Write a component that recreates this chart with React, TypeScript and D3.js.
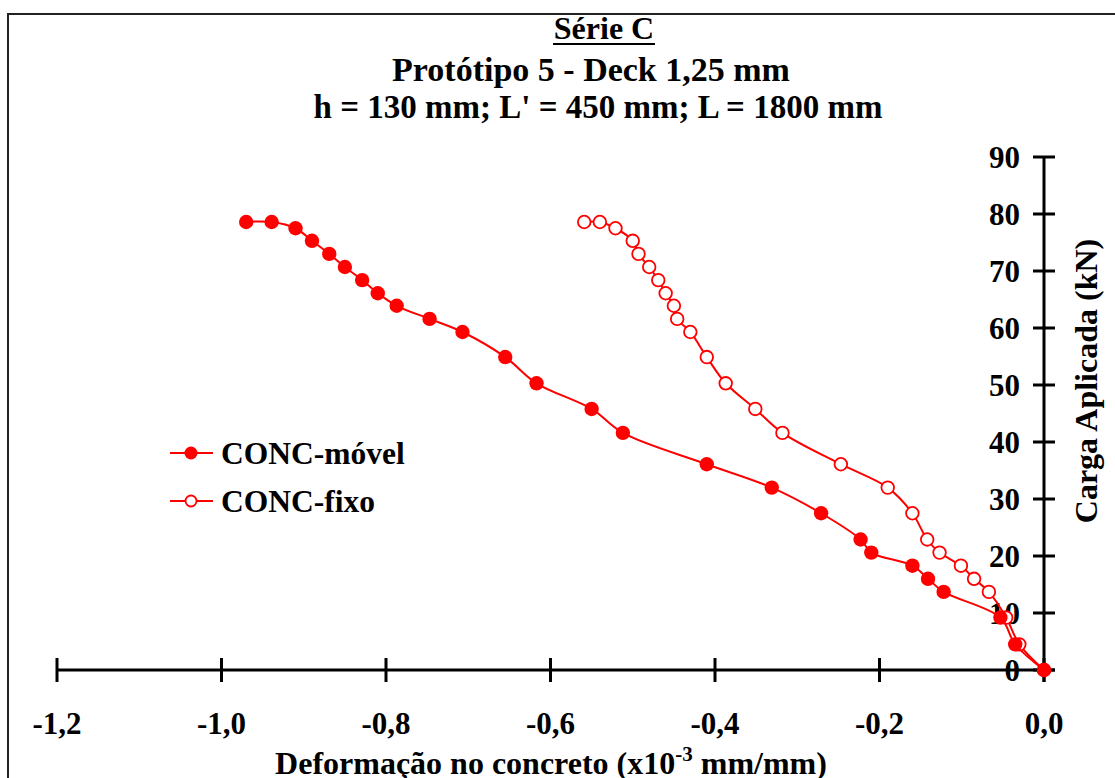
import React from "react";
import * as d3 from "d3";

// cargas (kN) comuns às duas séries
const loads = [
  78.6, 78.6, 77.5, 75.3, 73.0, 70.7, 68.4, 66.1, 63.9, 61.6, 59.3, 54.9, 50.3,
  45.8, 41.6, 36.1, 32.0, 27.5, 22.9, 20.6, 18.3, 16.0, 13.7, 9.2, 4.5, 0,
];

// deformações (x10^-3 mm/mm)
const concMovel = [
  -0.970, -0.939, -0.910, -0.890, -0.869, -0.850, -0.829, -0.810, -0.787,
  -0.747, -0.707, -0.655, -0.617, -0.550, -0.512, -0.410, -0.331, -0.271,
  -0.223, -0.210, -0.160, -0.141, -0.122, -0.053, -0.035, 0,
];
const concFixo = [
  -0.559, -0.540, -0.521, -0.500, -0.493, -0.480, -0.469, -0.460, -0.450,
  -0.446, -0.430, -0.410, -0.387, -0.351, -0.318, -0.247, -0.190, -0.160,
  -0.142, -0.127, -0.101, -0.085, -0.067, -0.046, -0.030, 0,
];

const xTicks = [-1.2, -1.0, -0.8, -0.6, -0.4, -0.2, 0];
const yTicks = [0, 10, 20, 30, 40, 50, 60, 70, 80, 90];
const titleLines = ["Protótipo 5 - Deck 1,25 mm", "h = 130 mm; L' = 450 mm; L = 1800 mm"];

const W = 1115;
const H = 778;
const RED = "#ff0000";
const FONT = "'Liberation Serif', 'Times New Roman', serif";

export default function App() {
  const x = d3.scaleLinear().domain([-1.2, 0]).range([57, 1044]);
  const y = d3.scaleLinear().domain([0, 90]).range([670, 157]);

  const line = d3
    .line<[number, number]>()
    .x((d) => x(d[0]))
    .y((d) => y(d[1]))
    .curve(d3.curveCatmullRom.alpha(0.5));

  const movel: [number, number][] = concMovel.map((v, i) => [v, loads[i]]);
  const fixo: [number, number][] = concFixo.map((v, i) => [v, loads[i]]);

  const x0 = x(0);
  const yBase = y(0);
  const fmt = (v: number) => v.toFixed(1).replace(".", ",");

  return (
    <svg
      width={W}
      height={H}
      style={{ position: "absolute", left: 0, top: 0, background: "#fff" }}
      fontFamily={FONT}
      fontWeight="bold"
    >
      <rect x={8} y={14} width={W + 20} height={H + 20} fill="#fff" stroke="#222" strokeWidth={2} />

      {/* títulos */}
      <text x={604} y={39} textAnchor="middle" fontSize={32}>Série C</text>
      <line x1={553} x2={655} y1={44} y2={44} stroke="#000" strokeWidth={2} />
      <text x={591} y={81} textAnchor="middle" fontSize={34}>{titleLines[0]}</text>
      <text x={598} y={118} textAnchor="middle" fontSize={33}>{titleLines[1]}</text>

      {/* eixo x */}
      <line x1={x(-1.2)} x2={x0 + 11} y1={yBase} y2={yBase} stroke="#000" strokeWidth={3} />
      {xTicks.map((t) => (
        <g key={t}>
          <line x1={x(t)} x2={x(t)} y1={yBase - 12} y2={yBase + 12} stroke="#000" strokeWidth={3} />
          <text x={x(t)} y={734} textAnchor="middle" fontSize={31}>
            {fmt(t)}
          </text>
        </g>
      ))}

      {/* eixo y */}
      <line x1={x0} x2={x0} y1={y(90)} y2={yBase + 12} stroke="#000" strokeWidth={3} />
      {yTicks.map((t) => (
        <g key={t}>
          <line x1={x0 - 11} x2={x0 + 11} y1={y(t)} y2={y(t)} stroke="#000" strokeWidth={3} />
          <text x={1020} y={y(t) + 11} textAnchor="end" fontSize={31}>
            {t}
          </text>
        </g>
      ))}

      {/* títulos dos eixos */}
      <text x={551} y={774} textAnchor="middle" fontSize={32}>
        Deformação no concreto (x10
        <tspan fontSize={21} dy={-13}>-3</tspan>
        <tspan dy={13}> mm/mm)</tspan>
      </text>
      <text transform={`translate(1097,381) rotate(-90)`} textAnchor="middle" fontSize={32}>
        Carga Aplicada (kN)
      </text>

      {/* séries */}
      <path d={line(fixo) ?? ""} fill="none" stroke={RED} strokeWidth={2} />
      {fixo.map((d, i) => (
        <circle key={i} cx={x(d[0])} cy={y(d[1])} r={6.3} fill="#fff" stroke={RED} strokeWidth={1.8} />
      ))}
      <path d={line(movel) ?? ""} fill="none" stroke={RED} strokeWidth={2} />
      {movel.map((d, i) => (
        <circle key={i} cx={x(d[0])} cy={y(d[1])} r={7.2} fill={RED} />
      ))}

      {/* legenda */}
      <g>
        <line x1={170} x2={213} y1={453} y2={453} stroke={RED} strokeWidth={2} />
        <circle cx={191} cy={453} r={6.5} fill={RED} />
        <text x={221} y={464} fontSize={31.5}>CONC-móvel</text>
        <line x1={170} x2={213} y1={501} y2={501} stroke={RED} strokeWidth={2} />
        <circle cx={191} cy={501} r={5.5} fill="#fff" stroke={RED} strokeWidth={1.8} />
        <text x={221} y={512} fontSize={31.5}>CONC-fixo</text>
      </g>
    </svg>
  );
}
